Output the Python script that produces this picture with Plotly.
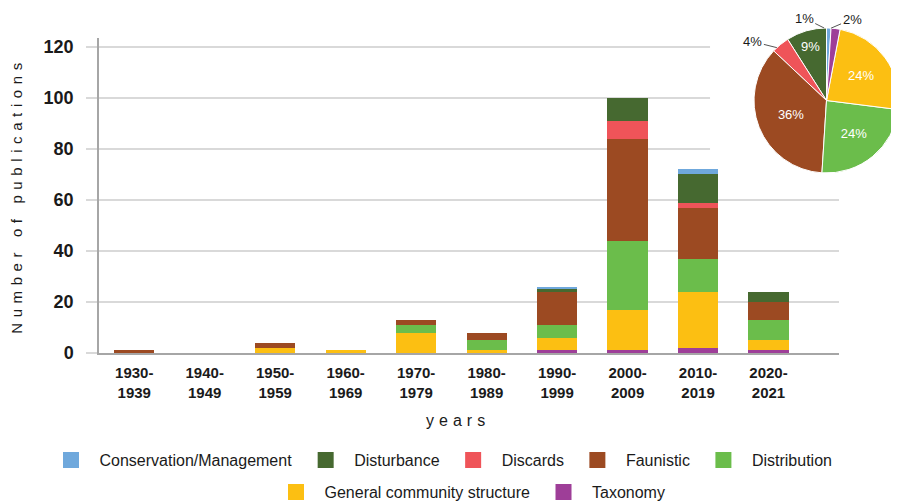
import math
import plotly.graph_objects as go

decades = ["1930-<br>1939", "1940-<br>1949", "1950-<br>1959", "1960-<br>1969", "1970-<br>1979",
           "1980-<br>1989", "1990-<br>1999", "2000-<br>2009", "2010-<br>2019", "2020-<br>2021"]

conservation = [0, 0, 0, 0, 0, 0, 1, 0, 2, 0]
disturbance  = [0, 0, 0, 0, 0, 0, 1, 9, 11, 4]
discards     = [0, 0, 0, 0, 0, 0, 0, 7, 2, 0]
faunistic    = [1, 0, 2, 0, 2, 3, 13, 40, 20, 7]
distribution = [0, 0, 0, 0, 3, 4, 5, 27, 13, 8]
general      = [0, 0, 2, 1, 8, 1, 5, 16, 22, 4]
taxonomy     = [0, 0, 0, 0, 0, 0, 1, 1, 2, 1]

categories = ["Conservation/Management", "Disturbance", "Discards", "Faunistic",
              "Distribution", "General community structure", "Taxonomy"]
pie_percent = [1, 9, 4, 36, 24, 24, 2]
y_ticks = [0, 20, 40, 60, 80, 100, 120]

colors = {
    "Conservation/Management": "#6fa8dc",
    "Disturbance": "#466930",
    "Discards": "#ef5459",
    "Faunistic": "#9c4a22",
    "Distribution": "#6bbd4b",
    "General community structure": "#fcbf12",
    "Taxonomy": "#9e3e98",
}

series = {
    "Conservation/Management": conservation,
    "Disturbance": disturbance,
    "Discards": discards,
    "Faunistic": faunistic,
    "Distribution": distribution,
    "General community structure": general,
    "Taxonomy": taxonomy,
}

FONT = "Liberation Sans, Arial, sans-serif"
TXT = "#1a1a1a"

# figure is drawn inside the page body (8px default margin), so size it to end at the window edge
W, H = 891, 495
L, B = 91, 150          # plot area: x 91..831, y 30..345 (figure px)
PAPER_W, PAPER_H = W - L, H - B

# pie placement (figure px)
PIE_X0, PIE_X1, PIE_Y0, PIE_Y1 = 746, 891, 20, 165
PIE_CX, PIE_CY = (PIE_X0 + PIE_X1) / 2, (PIE_Y0 + PIE_Y1) / 2
PIE_R = (PIE_X1 - PIE_X0) / 2

# small slices get outside labels with leader lines: label offset (px) per category
outside_offsets = {
    "Conservation/Management": (-20, -10),
    "Discards": (-24, -6),
    "Taxonomy": (21, -9),
}

fig = go.Figure()
# stacked bars, bottom-up: Taxonomy first
for name in reversed(categories):
    fig.add_trace(go.Bar(
        x=decades, y=series[name], name=name, legendgroup=name,
        marker=dict(color=colors[name], line=dict(width=0)),
        showlegend=False,
    ))

# legend entries (square swatches), split over two legend rows
for rank, name in enumerate(categories):
    fig.add_trace(go.Scatter(
        x=[None], y=[None], mode="markers", name=name, legendgroup=name,
        marker=dict(symbol="square", size=16, color=colors[name]),
        legendrank=rank + 1, showlegend=True,
        legend="legend" if rank < 5 else "legend2",
    ))

fig.add_trace(go.Pie(
    labels=categories, values=pie_percent, sort=False,
    direction="counterclockwise", rotation=0,
    marker=dict(colors=[colors[c] for c in categories], line=dict(color="white", width=1)),
    textinfo="percent",
    textposition=["none" if c in outside_offsets else "inside" for c in categories],
    insidetextorientation="horizontal",
    insidetextfont=dict(color="white", size=13, family=FONT),
    showlegend=False,
    domain=dict(x=[(PIE_X0 - L) / PAPER_W, 1.0],
                y=[(PAPER_H - PIE_Y1) / PAPER_H, (PAPER_H - PIE_Y0) / PAPER_H]),
))

# leader-line labels for the small pie slices, anchored at each slice's mid-angle on the rim
total = sum(pie_percent)
cum = 0
for name, val in zip(categories, pie_percent):
    mid = (cum + val / 2) / total * 2 * math.pi  # counterclockwise from 12 o'clock
    cum += val
    if name not in outside_offsets:
        continue
    px = PIE_CX - PIE_R * math.sin(mid)
    py = PIE_CY - PIE_R * math.cos(mid)
    ax, ay = outside_offsets[name]
    fig.add_annotation(
        text=f"{round(val / total * 100)}%",
        xref="paper", yref="paper",
        x=(px - L) / PAPER_W, y=(PAPER_H - py) / PAPER_H,
        ax=ax, ay=ay, showarrow=True, arrowhead=0, arrowwidth=1,
        arrowcolor="#555555", standoff=0,
        font=dict(size=13, family=FONT, color=TXT),
    )

# white inset background behind the pie (covers upper gridlines)
fig.add_shape(type="rect", xref="x", yref="y",
              x0=8.17, x1=10.0, y0=70, y1=130,
              fillcolor="white", line=dict(width=0), layer="between")

fig.add_annotation(
    text='<span style="letter-spacing:5px">years</span>',
    xref="paper", yref="paper", x=(449.5 - L) / PAPER_W, y=(PAPER_H - 412) / PAPER_H,
    showarrow=False, xanchor="center", yanchor="middle",
    font=dict(size=16, family=FONT, color=TXT),
)

legend_common = dict(
    orientation="h", xref="container", yref="container",
    xanchor="left", yanchor="top",
    font=dict(size=16, family=FONT, color=TXT),
    itemwidth=47, traceorder="normal", itemsizing="trace",
    bgcolor="rgba(0,0,0,0)",
)

fig.update_layout(
    width=W, height=H,
    margin=dict(l=L, r=0, t=0, b=B, autoexpand=False),
    paper_bgcolor="white", plot_bgcolor="white",
    barmode="stack", bargap=0.43,
    font=dict(family=FONT, color=TXT),
    xaxis=dict(
        domain=[0, 740 / PAPER_W],
        showline=True, linecolor="#a6a6a6", linewidth=2,
        ticks="", showgrid=False,
        tickfont=dict(size=15, family=FONT, color=TXT, weight="bold"),
        ticklabelstandoff=5,
    ),
    yaxis=dict(
        domain=[0, 315 / PAPER_H],
        range=[0, 123.5],
        tickvals=y_ticks,
        showline=True, linecolor="#a6a6a6", linewidth=1.5,
        showgrid=True, gridcolor="#d9d9d9", gridwidth=1.5,
        ticks="outside", ticklen=11, tickcolor="#d9d9d9", tickwidth=1.5,
        tickfont=dict(size=18, family=FONT, color=TXT, weight="bold"),
        ticklabelstandoff=9,
        zeroline=False,
        title=dict(text='<span style="letter-spacing:5.6px">Number of publications</span>',
                   font=dict(size=15, family=FONT, color=TXT), standoff=18),
    ),
    legend=dict(legend_common, x=34.5 / W, y=1 - 435 / H),
    legend2=dict(legend_common, x=259.5 / W, y=1 - 467 / H),
)

fig.write_html("out.html")
